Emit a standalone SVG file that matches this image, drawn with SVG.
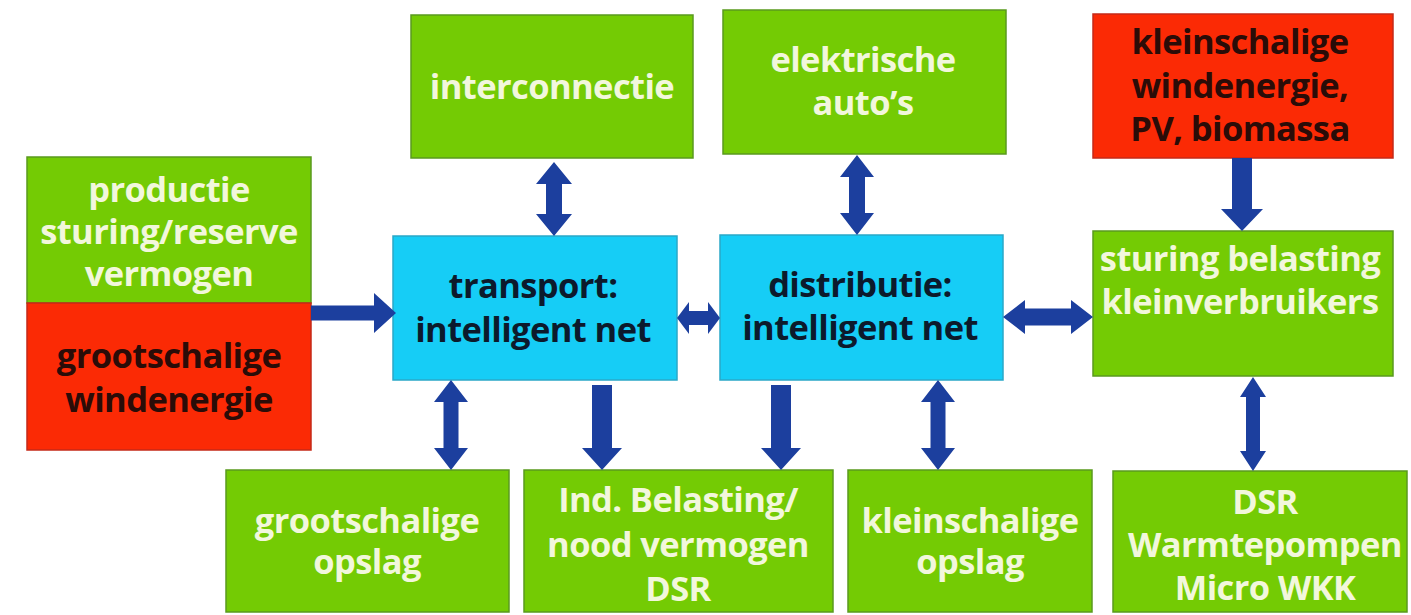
<svg xmlns="http://www.w3.org/2000/svg" width="1411" height="615" viewBox="0 0 1411 615">
<style>
.g{fill:#74cb04;stroke:#5a9a1e;stroke-width:1.5}
.r{fill:#fb2a05;stroke:#c52a18;stroke-width:1.5}
.b{fill:#16cdf6;stroke:#2aa8c8;stroke-width:1.5}
text{font-family:"Open Sans","Noto Sans","DejaVu Sans",sans-serif;font-weight:bold;font-size:34.5px;text-anchor:middle;letter-spacing:-0.6px}
.tg{fill:#f2f7dc}
.tr{fill:#2a0c08}
.tb{fill:#0c1a2c}
.arr{fill:#1c3f9e}
</style>
<rect width="1411" height="615" fill="#ffffff"/>
<g id="productie"><rect class="g" x="27" y="157" width="284" height="146"/>
<text class="tg" x="169" y="202">productie</text><text class="tg" x="169" y="244">sturing/reserve</text><text class="tg" x="169" y="286">vermogen</text></g>
<g id="grootschalige-wind"><rect class="r" x="27" y="303" width="284" height="147"/>
<text class="tr" x="169" y="368">grootschalige</text><text class="tr" x="169" y="412">windenergie</text></g>
<g id="interconnectie"><rect class="g" x="411" y="15" width="282" height="143"/>
<text class="tg" x="552" y="99">interconnectie</text></g>
<g id="elektrische"><rect class="g" x="723" y="10" width="283" height="144"/>
<text class="tg" x="863" y="72">elektrische</text><text class="tg" x="863" y="115">auto’s</text></g>
<g id="kleinschalige-wind"><rect class="r" x="1093" y="14" width="300" height="144"/>
<text class="tr" x="1240" y="54">kleinschalige</text><text class="tr" x="1240" y="98">windenergie,</text><text class="tr" x="1240" y="141">PV, biomassa</text></g>
<g id="transport"><rect class="b" x="393" y="236" width="284" height="144"/>
<text class="tb" x="533" y="298">transport:</text><text class="tb" x="533" y="342">intelligent net</text></g>
<g id="distributie"><rect class="b" x="720" y="235" width="283" height="145"/>
<text class="tb" x="860" y="297">distributie:</text><text class="tb" x="860" y="340">intelligent net</text></g>
<g id="sturing"><rect class="g" x="1093" y="231" width="300" height="145"/>
<text class="tg" x="1240" y="271">sturing belasting</text><text class="tg" x="1240" y="314">kleinverbruikers</text></g>
<g id="grootschalige-opslag"><rect class="g" x="226" y="470" width="283" height="142"/>
<text class="tg" x="367" y="533">grootschalige</text><text class="tg" x="367" y="574">opslag</text></g>
<g id="ind-belasting"><rect class="g" x="524" y="470" width="309" height="142"/>
<text class="tg" x="678" y="512">Ind. Belasting/</text><text class="tg" x="678" y="557">nood vermogen</text><text class="tg" x="678" y="601">DSR</text></g>
<g id="kleinschalige-opslag"><rect class="g" x="848" y="470" width="244" height="142"/>
<text class="tg" x="970" y="533">kleinschalige</text><text class="tg" x="970" y="574">opslag</text></g>
<g id="dsr"><rect class="g" x="1113" y="471" width="294" height="141"/>
<text class="tg" x="1265" y="514">DSR</text><text class="tg" x="1265" y="557">Warmtepompen</text><text class="tg" x="1265" y="600">Micro WKK</text></g>
<g id="connectors">
<polygon class="arr" points="554,162 572,184 562,184 562,214 572,214 554,236 536,214 546,214 546,184 536,184"/>
<polygon class="arr" points="857,155 874,177 865,177 865,213 874,213 857,235 840,213 849,213 849,177 840,177"/>
<polygon class="arr" points="451,380 468,402 458.5,402 458.5,448 468,448 451,470 434,448 443.5,448 443.5,402 434,402"/>
<polygon class="arr" points="938,380 955,402 945.5,402 945.5,448 955,448 938,470 921,448 930.5,448 930.5,402 921,402"/>
<polygon class="arr" points="1253,377 1266,397 1260,397 1260,451 1266,451 1253,471 1240,451 1246,451 1246,397 1240,397"/>
<polygon class="arr" points="592,385 612,385 612,448 622,448 602,470 582,448 592,448"/>
<polygon class="arr" points="771,385 791,385 791,448 801,448 781,470 761,448 771,448"/>
<polygon class="arr" points="1232,158 1252,158 1252,209 1263,209 1242,231 1221,209 1232,209"/>
<polygon class="arr" points="311,305.5 374,305.5 374,293 396,313 374,333 374,320.5 311,320.5"/>
<polygon class="arr" points="677,318 689,302 689,311 708,311 708,302 720,318 708,334 708,325 689,325 689,334"/>
<polygon class="arr" points="1003,317 1025,300 1025,308.5 1071,308.5 1071,300 1093,317 1071,334 1071,325.5 1025,325.5 1025,334"/>
</g>
</svg>
